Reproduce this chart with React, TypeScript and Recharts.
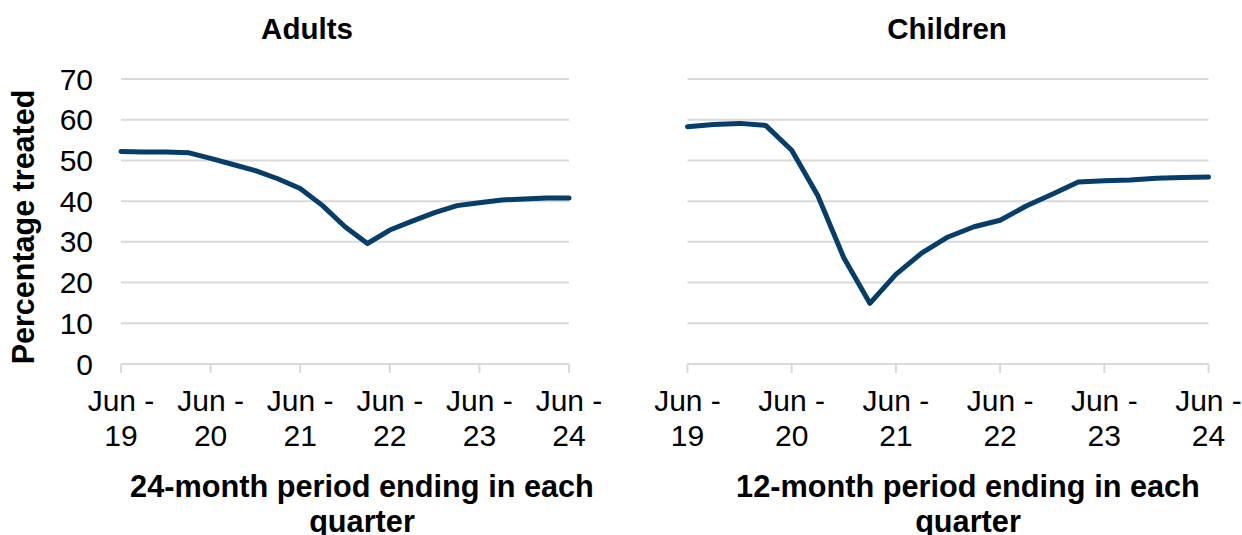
import React from "react";
import { LineChart, Line, XAxis, YAxis, CartesianGrid } from "recharts";

const quarters = [
  "Jun-19", "Sep-19", "Dec-19", "Mar-20", "Jun-20", "Sep-20", "Dec-20", "Mar-21",
  "Jun-21", "Sep-21", "Dec-21", "Mar-22", "Jun-22", "Sep-22", "Dec-22", "Mar-23",
  "Jun-23", "Sep-23", "Dec-23", "Mar-24", "Jun-24",
];
const adults = [
  52.2, 52.1, 52.1, 51.9, 50.5, 49.0, 47.5, 45.5, 43.1, 38.9, 33.7,
  29.6, 32.9, 35.1, 37.2, 38.9, 39.6, 40.3, 40.5, 40.8, 40.8,
];
const children = [
  58.3, 58.8, 59.1, 58.6, 52.5, 41.4, 26.1, 14.9, 22.0, 27.3, 31.2,
  33.7, 35.3, 38.8, 41.7, 44.7, 45.0, 45.2, 45.6, 45.8, 45.9,
];
const xTicks = ["Jun-19", "Jun-20", "Jun-21", "Jun-22", "Jun-23", "Jun-24"];
const yTicks = [0, 10, 20, 30, 40, 50, 60, 70];
const panelTitles = ["Adults", "Children"];
const xTitles = [
  ["24-month period ending in each", "quarter"],
  ["12-month period ending in each", "quarter"],
];
const yTitle = "Percentage treated";

const rows = quarters.map((q, i) => ({ quarter: q, adults: adults[i], children: children[i] }));

const FONT = "'Liberation Sans', Arial, sans-serif";
const LINE = "#053d6b";
const GRID = "#d9d9d9";

const XTick = (props: any) => {
  const { x, y, payload } = props;
  const [m, yr] = String(payload.value).split("-");
  return (
    <g>
      <text x={x} y={y + 38} textAnchor="middle" fontSize={30} fontFamily={FONT} fill="#000">
        {m + " -"}
      </text>
      <text x={x} y={y + 73} textAnchor="middle" fontSize={30} fontFamily={FONT} fill="#000">
        {yr}
      </text>
    </g>
  );
};

const YTick = (props: any) => {
  const { x, y, payload } = props;
  return (
    <text x={x} y={y + 10.5} textAnchor="end" fontSize={30} fontFamily={FONT} fill="#000">
      {payload.value}
    </text>
  );
};

const EmptyTick = () => <g />;

function Panel({ dataKey, left, margin, showY }: { dataKey: string; left: number; margin: any; showY: boolean }) {
  return (
    <div style={{ position: "absolute", left, top: 0 }}>
      <LineChart width={621} height={535} data={rows} margin={margin}>
        <CartesianGrid vertical={false} stroke={GRID} strokeWidth={2} />
        <XAxis
          dataKey="quarter"
          ticks={xTicks}
          interval={0}
          height={90}
          axisLine={{ stroke: GRID, strokeWidth: 2 }}
          tickLine={{ stroke: GRID, strokeWidth: 2 }}
          tickSize={9}
          tickMargin={0}
          tick={<XTick />}
        />
        <YAxis
          domain={[0, 70]}
          ticks={yTicks}
          width={40}
          axisLine={false}
          tickLine={false}
          tickSize={0}
          tickMargin={28}
          tick={showY ? <YTick /> : <EmptyTick />}
        />
        <Line
          type="linear"
          dataKey={dataKey}
          stroke={LINE}
          strokeWidth={5}
          strokeLinejoin="round"
          strokeLinecap="round"
          dot={false}
          activeDot={false}
          isAnimationActive={false}
        />
      </LineChart>
    </div>
  );
}

export default function App() {
  return (
    <div style={{ position: "fixed", left: 0, top: 0, width: 1242, height: 535, background: "#fff", overflow: "hidden" }}>
      <Panel dataKey="adults" left={0} margin={{ top: 79, right: 52, bottom: 81, left: 81 }} showY={true} />
      <Panel dataKey="children" left={621} margin={{ top: 79, right: 33.5, bottom: 81, left: 26.5 }} showY={false} />
      <svg width={1242} height={535} style={{ position: "absolute", left: 0, top: 0, pointerEvents: "none" }}>
        <text x={307} y={39} textAnchor="middle" fontSize={29.5} fontWeight="bold" fontFamily={FONT} fill="#000">
          {panelTitles[0]}
        </text>
        <text x={947} y={39} textAnchor="middle" fontSize={29.5} fontWeight="bold" fontFamily={FONT} fill="#000">
          {panelTitles[1]}
        </text>
        <text
          transform="translate(34,227) rotate(-90)"
          x={0}
          y={0}
          textAnchor="middle"
          fontSize={30.5}
          fontWeight="bold"
          fontFamily={FONT}
          fill="#000"
        >
          {yTitle}
        </text>
        {[362, 968].map((cx, k) => (
          <g key={k}>
            <text x={cx} y={497} textAnchor="middle" fontSize={30.7} fontWeight="bold" fontFamily={FONT} fill="#000">
              {xTitles[k][0]}
            </text>
            <text x={cx} y={531.5} textAnchor="middle" fontSize={30.7} fontWeight="bold" fontFamily={FONT} fill="#000">
              {xTitles[k][1]}
            </text>
          </g>
        ))}
      </svg>
    </div>
  );
}
